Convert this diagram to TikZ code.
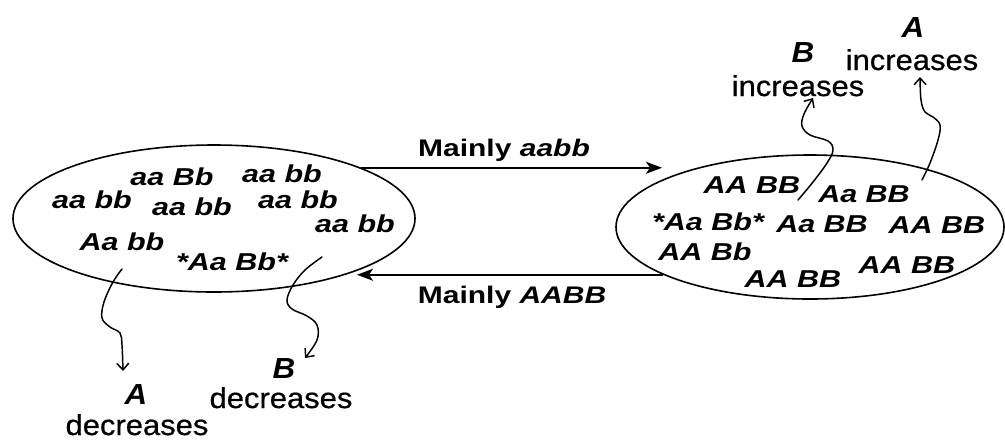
\documentclass[tikz,border=0pt]{standalone}
\usepackage{fontspec}
\setmainfont{Liberation Sans}
\newfontfamily\gfont[FakeStretch=1.25]{Liberation Sans}
\newfontfamily\lfont[FakeStretch=1.08]{Liberation Sans}
\newfontfamily\wfont[FakeStretch=1.08,FakeBold=0.6]{Liberation Sans}
\usetikzlibrary{shapes.geometric,arrows.meta}
\begin{document}
\begin{tikzpicture}[x=0.75pt,y=-0.75pt,
  geno/.style={font=\gfont\bfseries\itshape\fontsize{18.3}{20}\selectfont, inner sep=0, anchor=base},
  mainlbl/.style={font=\gfont\bfseries\fontsize{18}{20}\selectfont, inner sep=0, anchor=base},
  lblletter/.style={font=\lfont\bfseries\itshape\fontsize{21.75}{24}\selectfont, inner sep=0, anchor=base},
  lblword/.style={font=\wfont\fontsize{21.5}{24}\selectfont, inner sep=0, anchor=base},
  pop/.style={draw, ellipse, inner sep=0, line width=1.2pt},
  flow/.style={line width=1.2pt, -{Stealth[length=12pt,width=9pt,inset=3pt]}},
  sq/.style={line width=1.1pt, -{Straight Barb[length=5pt,width=9pt]}, line join=round, line cap=round}]

\useasboundingbox (0,0) rectangle (1005,440);

% populations
\node[pop, minimum width=301.5pt, minimum height=110.25pt] (L) at (214,218.5) {};
\node[pop, minimum width=291pt, minimum height=108pt] (R) at (810,227) {};

% left genotypes
\node[geno] (l1) at (172,185) {aa Bb};
\node[geno] (l2) at (282,182) {aa bb};
\node[geno] (l3) at (92,208) {aa bb};
\node[geno] (l4) at (192,215) {aa bb};
\node[geno] (l5) at (298,208) {aa bb};
\node[geno] (l6) at (355,232) {aa bb};
\node[geno] (l7) at (122,250) {Aa bb};
\node[geno] (l8) at (232,270) {*Aa Bb*};

% right genotypes
\node[geno] (r1) at (752,193) {AA BB};
\node[geno] (r2) at (864,202) {Aa BB};
\node[geno] (r3) at (708,230) {*Aa Bb*};
\node[geno] (r4) at (822,232) {Aa BB};
\node[geno] (r5) at (937,233) {AA BB};
\node[geno] (r6) at (705,260) {AA Bb};
\node[geno] (r7) at (793,287) {AA BB};
\node[geno] (r8) at (907,273) {AA BB};

% migration arrows
\coordinate (ta) at (662,168);
\coordinate (tb) at (357,275);
\draw[flow] (L.19) -- (L.19 -| ta);
\draw[flow] (R.198) -- (R.198 -| tb);
\node[mainlbl] (m1) at (504,156) {Mainly \itshape aabb};
\node[mainlbl] (m2) at (512,303) {Mainly \itshape AABB};

% labels
\node[lblletter] (Bt) at (803,62) {B};
\node[lblword] (Bti) at (798,96) {increases};
\node[lblletter] (At) at (913,37) {A};
\node[lblword] (Ati) at (912,70) {increases};
\node[lblletter] (Ab) at (136,404) {A};
\node[lblword] (Abd) at (137,435) {decreases};
\node[lblletter] (Bb) at (284,378) {B};
\node[lblword] (Bbd) at (281,408) {decreases};

% squiggly arrows
\draw[sq] plot[smooth, tension=0.6] coordinates {(122,269) (113,282) (104,302) (102,318) (110,327) (120,333) (122,345) (123,371)};
\draw[sq] plot[smooth, tension=0.6] coordinates {(322,257) (305,270) (293,285) (287,300) (292,309) (307,316) (317,325) (317,340) (305,358)};
\draw[sq] plot[smooth, tension=0.6] coordinates {(798,200) (813,182) (827,163) (833,150) (828,141) (810,135) (802,126) (804,114) (813,98)};
\draw[sq] plot[smooth, tension=0.6] coordinates {(922,180) (930,163) (938,140) (940,125) (933,117) (925,112) (921,100) (920,77)};
\end{tikzpicture}
\end{document}
